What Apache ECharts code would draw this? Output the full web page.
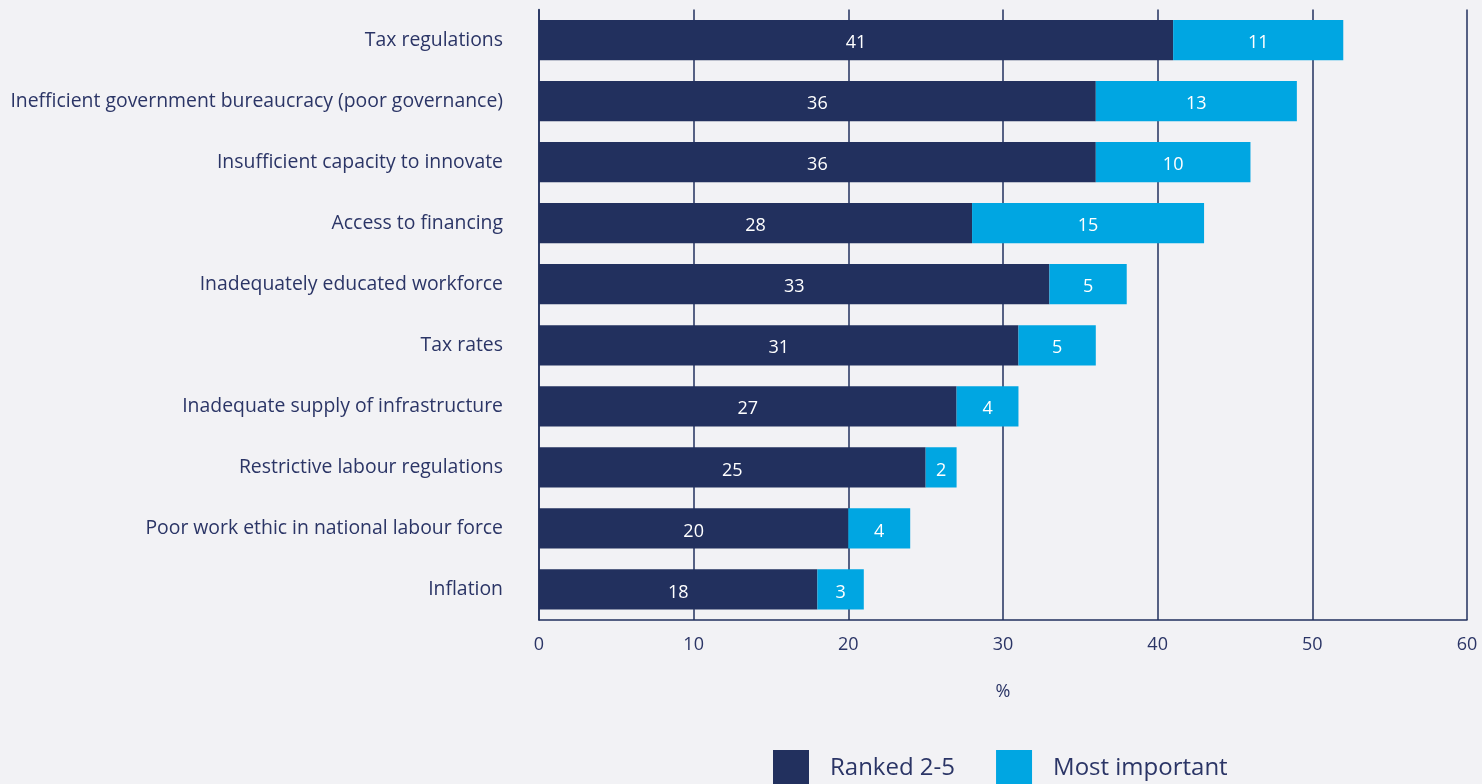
<!DOCTYPE html>
<html>
<head>
<meta charset="utf-8">
<style>
  html, body { margin: 0; padding: 0; background: #f2f2f5; }
  #chart { width: 1482px; height: 784px; }
</style>
<script src="https://cdn.jsdelivr.net/npm/echarts@6/dist/echarts.min.js"></script>
</head>
<body>
<div id="chart"></div>
<script>
// Obstacles to doing business, share of respondents (%)
const categories = [
  'Tax regulations',
  'Inefficient government bureaucracy (poor governance)',
  'Insufficient capacity to innovate',
  'Access to financing',
  'Inadequately educated workforce',
  'Tax rates',
  'Inadequate supply of infrastructure',
  'Restrictive labour regulations',
  'Poor work ethic in national labour force',
  'Inflation'
];
const ranked2to5 = [41, 36, 36, 28, 33, 31, 27, 25, 20, 18];
const mostImportant = [11, 13, 10, 15, 5, 5, 4, 2, 4, 3];
const xTicks = [0, 10, 20, 30, 40, 50, 60];

const NAVY = '#22305e';
const BLUE = '#00a6e2';
const TEXT = '#2b3566';
const FONT = '"Open Sans", "Noto Sans", sans-serif';

const chart = echarts.init(document.getElementById('chart'));

const labelStyle = {
  show: true,
  position: 'inside',
  color: '#ffffff',
  fontFamily: FONT,
  fontSize: 18,
  offset: [0, 3]
};

chart.setOption({
  backgroundColor: '#f2f2f5',
  animation: false,
  textStyle: { fontFamily: FONT, color: TEXT },
  grid: { left: 539, right: 15, top: 9.5, bottom: 164, containLabel: false },
  xAxis: {
    type: 'value',
    min: xTicks[0],
    max: xTicks[xTicks.length - 1],
    interval: 10,
    name: '%',
    nameLocation: 'middle',
    nameGap: 63,
    nameTextStyle: { color: TEXT, fontSize: 18, fontFamily: FONT },
    axisLine: { show: true, lineStyle: { color: NAVY, width: 1.5 } },
    axisTick: { show: false },
    axisLabel: { color: TEXT, fontSize: 18, margin: 16, fontFamily: FONT },
    splitLine: { show: true, lineStyle: { color: NAVY, width: 1.5 } }
  },
  yAxis: {
    type: 'category',
    data: categories,
    inverse: true,
    axisLine: { show: true, lineStyle: { color: NAVY, width: 1.5 } },
    axisTick: { show: false },
    axisLabel: { color: TEXT, fontSize: 19.4, margin: 36, fontFamily: FONT, padding: [10, 0, 0, 0] }
  },
  legend: {
    top: 745,
    left: 768,
    itemWidth: 36,
    itemHeight: 36,
    itemGap: 41,
    icon: 'rect',
    textStyle: { color: TEXT, fontSize: 24, fontFamily: FONT, padding: [0, 0, 0, 16] },
    data: ['Ranked 2-5', 'Most important']
  },
  series: [
    {
      name: 'Ranked 2-5',
      type: 'bar',
      stack: 'total',
      data: ranked2to5,
      barCategoryGap: '34%',
      itemStyle: { color: NAVY },
      label: labelStyle
    },
    {
      name: 'Most important',
      type: 'bar',
      stack: 'total',
      data: mostImportant,
      itemStyle: { color: BLUE },
      label: labelStyle
    }
  ]
});
</script>
</body>
</html>
